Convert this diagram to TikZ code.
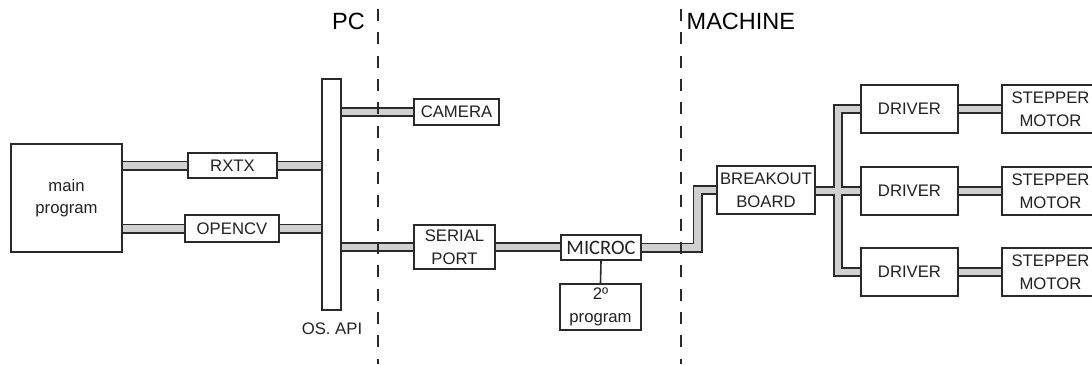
\documentclass[tikz,border=0pt]{standalone}
\usepackage{fontspec}
\setmainfont{Liberation Sans}
\newfontfamily\calibfont{Carlito}
\usetikzlibrary{backgrounds}
\definecolor{linec}{HTML}{2A2A2A}
\definecolor{busgray}{HTML}{D0D0D0}
\definecolor{textc}{HTML}{222222}
\begin{document}
\begin{tikzpicture}[x=1pt,y=-1pt,
  box/.style={draw=linec, line width=1.6pt, fill=white, inner sep=0pt, align=center,
    font=\fontsize{16.7}{22.5}\selectfont, text=textc},
  lbl/.style={inner sep=0pt, font=\fontsize{16.7}{22.5}\selectfont, text=textc},
  biglbl/.style={inner sep=0pt, font=\fontsize{23.5}{26}\selectfont, text=black},
  busout/.style={draw=linec, line width=10pt, line join=miter, line cap=butt},
  busin/.style={draw=busgray, line width=6.6pt, line join=miter, line cap=butt},
  thinline/.style={draw=linec, line width=1.6pt},
  sepline/.style={draw=linec, line width=1.6pt, dash pattern=on 12pt off 11.3pt}
]
\useasboundingbox (0,0) rectangle (1092,364);
\clip (0,0) rectangle (1092,364);

% nodes
\node[box, minimum width=111pt, minimum height=108pt] (main) at (66.5,198) {main\\program};
\node[box, minimum width=89pt, minimum height=25.5pt] (rxtx) at (232.5,165.5) {RXTX};
\node[box, minimum width=94pt, minimum height=27pt] (opencv) at (232,228.5) {OPENCV};
\node[box, minimum width=19.5pt, minimum height=231pt] (os) at (331.5,194.5) {};
\node[lbl] (oslbl) at (332,329) {OS. API};
\node[box, minimum width=85.5pt, minimum height=26.5pt] (camera) at (456.5,112) {CAMERA};
\node[box, minimum width=81.5pt, minimum height=44.5pt] (serial) at (454.5,247) {SERIAL\\PORT};
\node[box, minimum width=80.5pt, minimum height=25.5pt, font=\calibfont\fontsize{20.5}{22}\selectfont] (microc) at (601,247.5) {MICROC};
\node[box, minimum width=81.5pt, minimum height=46.5pt] (prog2) at (600.5,307) {2º\\program};
\node[box, minimum width=98.5pt, minimum height=47.5pt] (breakout) at (766,190) {BREAKOUT\\BOARD};
\node[box, minimum width=97.5pt, minimum height=48.5pt] (d1) at (909.5,109) {DRIVER};
\node[box, minimum width=97.5pt, minimum height=48.5pt] (d2) at (909.5,191) {DRIVER};
\node[box, minimum width=97.5pt, minimum height=48.5pt] (d3) at (909.5,272) {DRIVER};
\node[box, minimum width=97.5pt, minimum height=48.5pt] (s1) at (1050.5,109) {STEPPER\\MOTOR};
\node[box, minimum width=97.5pt, minimum height=48.5pt] (s2) at (1050.5,191) {STEPPER\\MOTOR};
\node[box, minimum width=97.5pt, minimum height=48.5pt] (s3) at (1050.5,272) {STEPPER\\MOTOR};
\node[biglbl] (pc) at (348.5,21) {PC};
\node[biglbl, anchor=west] (mach) at (686.5,21) {MACHINE};

\coordinate (j1) at (697.5,190);
\coordinate (tr) at (838,0);
\coordinate (pctop) at (378,9);
\coordinate (pcbot) at (378,364);
\coordinate (mtop) at (681,9);
\coordinate (mbot) at (681,364);

\newcommand\buspaths[1]{%
  \path[#1] (main.east |- rxtx.west) -- (rxtx.west);
  \path[#1] (rxtx.east) -- (os.west |- rxtx.east);
  \path[#1] (main.east |- opencv.west) -- (opencv.west);
  \path[#1] (opencv.east) -- (os.west |- opencv.east);
  \path[#1] (os.east |- camera.west) -- (camera.west);
  \path[#1] (os.east |- serial.west) -- (serial.west);
  \path[#1] (serial.east) -- (microc.west |- serial.east);
  \path[#1] (microc.east) -| (j1) -- (breakout.west);
  \path[#1] (d1.west) -- (tr |- d1.west) -- (tr |- d3.west) -- (d3.west);
  \path[#1] (breakout.east |- d2.west) -- (d2.west);
  \path[#1] (d1.east) -- (s1.west);
  \path[#1] (d2.east) -- (s2.west);
  \path[#1] (d3.east) -- (s3.west);
}
\begin{pgfonlayer}{background}
  \buspaths{busout}
  \buspaths{busin}
\end{pgfonlayer}

\draw[thinline] (microc.south) -- (prog2.north);
\draw[sepline] (pctop) -- (pcbot);
\draw[sepline] (mtop) -- (mbot);
\end{tikzpicture}
\end{document}
